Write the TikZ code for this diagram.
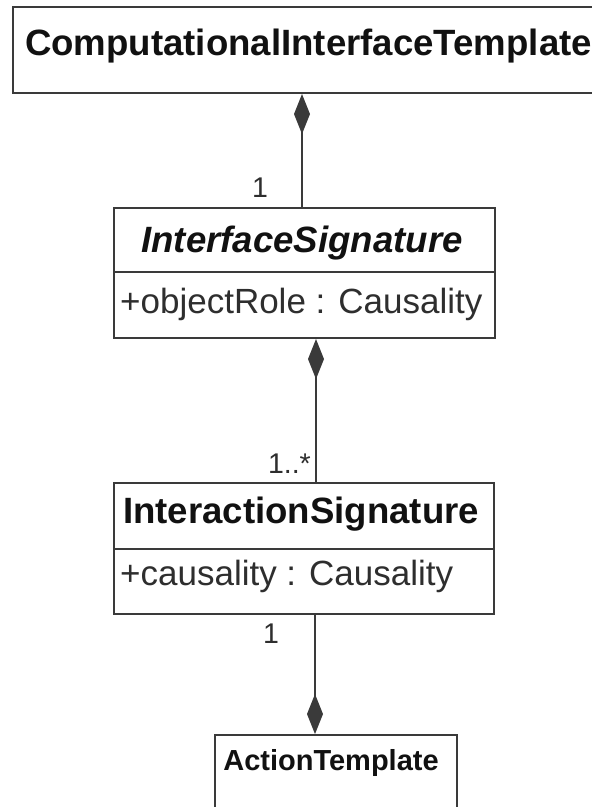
\documentclass[tikz,border=0pt]{standalone}
\usepackage{fontspec}
\setmainfont{Liberation Sans}
\usetikzlibrary{arrows.meta}
\definecolor{umlline}{HTML}{3A3A3A}
\definecolor{umltext}{HTML}{111111}
\definecolor{attrtext}{HTML}{2E2E2E}
\begin{document}
\begin{tikzpicture}[x=1pt,y=-1pt,
  classbox/.style={draw=umlline,line width=2pt,fill=white,inner sep=0pt},
  titletext/.style={inner sep=0pt,anchor=base,text=umltext,font=\fontsize{36.6}{40}\selectfont\bfseries},
  attrlabel/.style={inner sep=0pt,anchor=base west,text=attrtext,font=\fontsize{35}{40}\selectfont},
  multlabel/.style={inner sep=0pt,text=attrtext,font=\fontsize{28.5}{31}\selectfont},
  composition/.style={draw=umlline,line width=2pt,-{Diamond[length=40pt,width=16pt,fill=umlline]}},
  divider/.style={draw=umlline,line width=2pt}]
\useasboundingbox (0,0) rectangle (592,807);
\clip (0,0) rectangle (592,807);
\fill[white] (0,0) rectangle (592,807);

% class boxes
\node[classbox,minimum width=597pt,minimum height=86pt] (cit) at (311.5,50) {};
\node[classbox,minimum width=381pt,minimum height=130pt] (isig) at (304.5,273) {};
\node[classbox,minimum width=380pt,minimum height=131pt] (isg) at (304,548.5) {};
\node[classbox,minimum width=242pt,minimum height=95pt] (act) at (336,782.5) {};

% compartment dividers
\draw[divider] (isig.west |- 0,272) -- (isig.east |- 0,272);
\draw[divider] (isg.west |- 0,549) -- (isg.east |- 0,549);

% class names and attributes
\node[titletext,anchor=base west] (citname) at (25,55) {ComputationalInterfaceTemplate};
\node[titletext] (isigname) at (302,252) {\itshape InterfaceSignature};
\node[attrlabel] (isigattr) at (120,313) {+objectRole : Causality};
\node[titletext] (isgname) at (301,523) {InteractionSignature};
\node[attrlabel] (isgattr) at (120,585) {+causality : Causality};
\node[titletext,font=\fontsize{29}{32}\selectfont\bfseries] (actname) at (331,770) {ActionTemplate};

% composition associations
\coordinate (c1) at ([xshift=-2.5pt]isig.north);
\draw[composition] (c1) -- (c1 |- cit.south);
\coordinate (c2) at ([xshift=11.5pt]isig.south);
\draw[composition] (c2 |- isg.north) -- (c2);
\coordinate (c3) at ([xshift=11pt]isg.south);
\draw[composition] (c3) -- (c3 |- act.north);

% multiplicities
\node[multlabel,anchor=base] (m1) at (260,197) {1};
\node[multlabel,anchor=base east] (m2) at (311,473) {1..*};
\node[multlabel,anchor=base] (m3) at (271,643) {1};
\end{tikzpicture}
\end{document}
